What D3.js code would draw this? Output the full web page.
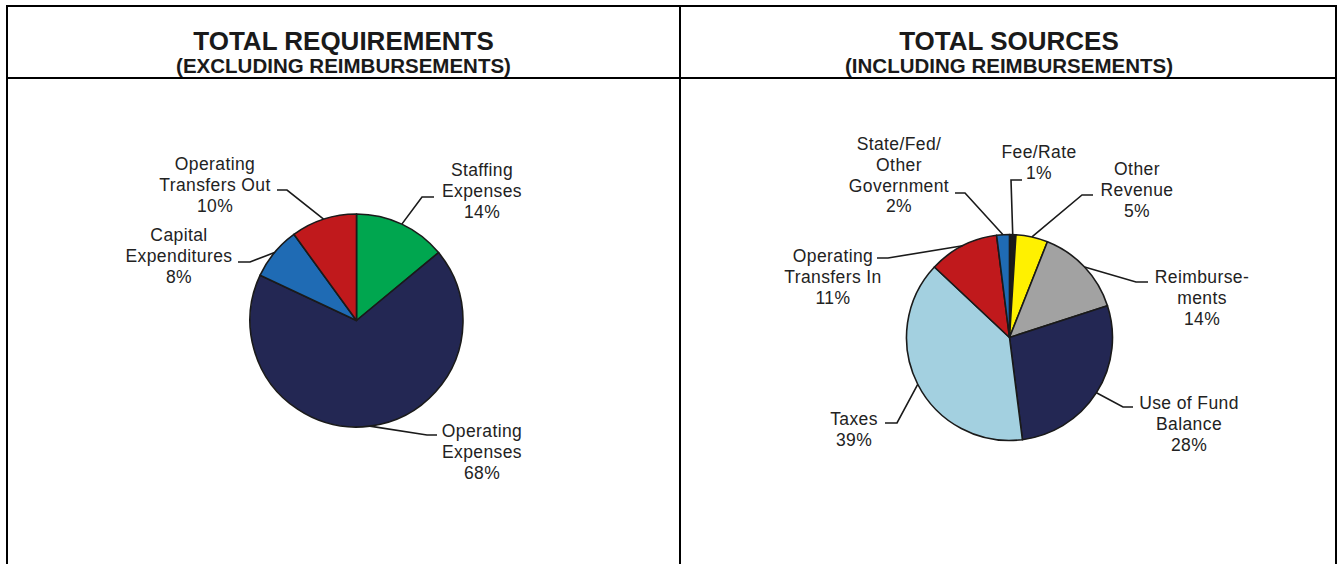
<!DOCTYPE html>
<html>
<head>
<meta charset="utf-8">
<script src="https://cdn.jsdelivr.net/npm/d3@7"></script>
<style>
  html, body { margin: 0; padding: 0; background: #fff; }
  svg { display: block; }
  text { font-family: "Liberation Sans", Arial, Helvetica, sans-serif; }
</style>
</head>
<body>
<svg id="chart" width="1340" height="564"></svg>
<script>
// ---------- DATA ----------
const leftTitle = "TOTAL REQUIREMENTS";
const leftSubtitle = "(EXCLUDING REIMBURSEMENTS)";
const leftCategories = ["Staffing\nExpenses", "Operating\nExpenses", "Capital\nExpenditures", "Operating\nTransfers Out"];
const leftValues = [14, 68, 8, 10];
const leftColors = ["#00a64f", "#232753", "#1f6bb4", "#c0191c"];

const rightTitle = "TOTAL SOURCES";
const rightSubtitle = "(INCLUDING REIMBURSEMENTS)";
const rightCategories = ["Fee/Rate", "Other\nRevenue", "Reimburse-\nments", "Use of Fund\nBalance", "Taxes", "Operating\nTransfers In", "State/Fed/\nOther\nGovernment"];
const rightValues = [1, 5, 14, 28, 39, 11, 2];
const rightColors = ["#1a1a1a", "#fff100", "#a2a2a2", "#232753", "#a3d0e0", "#c0191c", "#1f6bb4"];

// ---------- LAYOUT (label placement, not data) ----------
const leftLayout = [
  { tx: 482, ty: 176, elbow: [422, 197], stub: [434, 197] },
  { tx: 482, ty: 437, elbow: [427, 435], stub: [437, 435] },
  { tx: 179, ty: 241, elbow: [250, 262], stub: [238, 262] },
  { tx: 215, ty: 170, elbow: [287, 190], stub: [277, 190] }
];
const rightLayout = [
  { tx: 1039, ty: 158, elbow: [1011, 180], stub: [1022, 180] },
  { tx: 1137, ty: 175, elbow: [1082, 195], stub: [1093, 195] },
  { tx: 1202, ty: 283, elbow: [1136, 282], stub: [1148, 282] },
  { tx: 1189, ty: 409, elbow: [1123, 407], stub: [1133, 407] },
  { tx: 854,  ty: 425, elbow: [897, 423], stub: [885, 423] },
  { tx: 833,  ty: 262, elbow: [888, 258], stub: [877, 258] },
  { tx: 899,  ty: 150, elbow: [965, 193], stub: [955, 193] }
];

const svg = d3.select("#chart");
const ink = "#1a1a1a";
const textInk = "#222";

// ---------- FRAME ----------
const frameL = 7, frameR = 1336, frameT = 6, sepY = 78, midX = 680;
svg.append("path")
  .attr("d", `M${frameL},600 V${frameT} H${frameR} V600`)
  .attr("fill", "none").attr("stroke", "#000").attr("stroke-width", 2);
svg.append("line").attr("x1", frameL).attr("x2", frameR).attr("y1", sepY).attr("y2", sepY)
  .attr("stroke", "#000").attr("stroke-width", 2);
svg.append("line").attr("x1", midX).attr("x2", midX).attr("y1", frameT).attr("y2", 600)
  .attr("stroke", "#000").attr("stroke-width", 2);

function titles(cx, t, s) {
  svg.append("text").attr("x", cx).attr("y", 50).attr("text-anchor", "middle")
    .attr("font-size", 26).attr("font-weight", "bold").attr("fill", ink).text(t);
  svg.append("text").attr("x", cx).attr("y", 73).attr("text-anchor", "middle")
    .attr("font-size", 20.5).attr("font-weight", "bold").attr("fill", ink).text(s);
}
titles(343.5, leftTitle, leftSubtitle);
titles(1009, rightTitle, rightSubtitle);

function drawPie(cx, cy, r, cats, vals, colors, layout) {
  const total = d3.sum(vals);
  const pie = d3.pie().sort(null).value(d => d).startAngle(0).endAngle(2 * Math.PI);
  const arcs = pie(vals);
  const arc = d3.arc().innerRadius(0).outerRadius(r);
  const g = svg.append("g").attr("transform", `translate(${cx},${cy})`);
  g.selectAll("path.slice").data(arcs).join("path")
    .attr("class", "slice")
    .attr("d", arc)
    .attr("fill", (d, i) => colors[i])
    .attr("stroke", ink).attr("stroke-width", 1.6).attr("stroke-linejoin", "round");

  arcs.forEach((d, i) => {
    const a = (d.startAngle + d.endAngle) / 2;
    const p0 = [cx + r * Math.sin(a), cy - r * Math.cos(a)];
    const L = layout[i];
    svg.append("polyline")
      .attr("points", [p0, L.elbow, L.stub].map(p => p.join(",")).join(" "))
      .attr("fill", "none").attr("stroke", ink).attr("stroke-width", 1.6);
    const lines = cats[i].split("\n").concat([Math.round(d.value / total * 100) + "%"]);
    const t = svg.append("text").attr("text-anchor", "middle")
      .attr("font-size", 17.5).attr("letter-spacing", 0.4).attr("fill", textInk);
    lines.forEach((ln, k) => {
      t.append("tspan").attr("x", L.tx).attr("y", L.ty + k * 20.8).text(ln);
    });
  });
}

drawPie(356.5, 320.5, 106.5, leftCategories, leftValues, leftColors, leftLayout);
drawPie(1009.5, 337.5, 103, rightCategories, rightValues, rightColors, rightLayout);
</script>
</body>
</html>
